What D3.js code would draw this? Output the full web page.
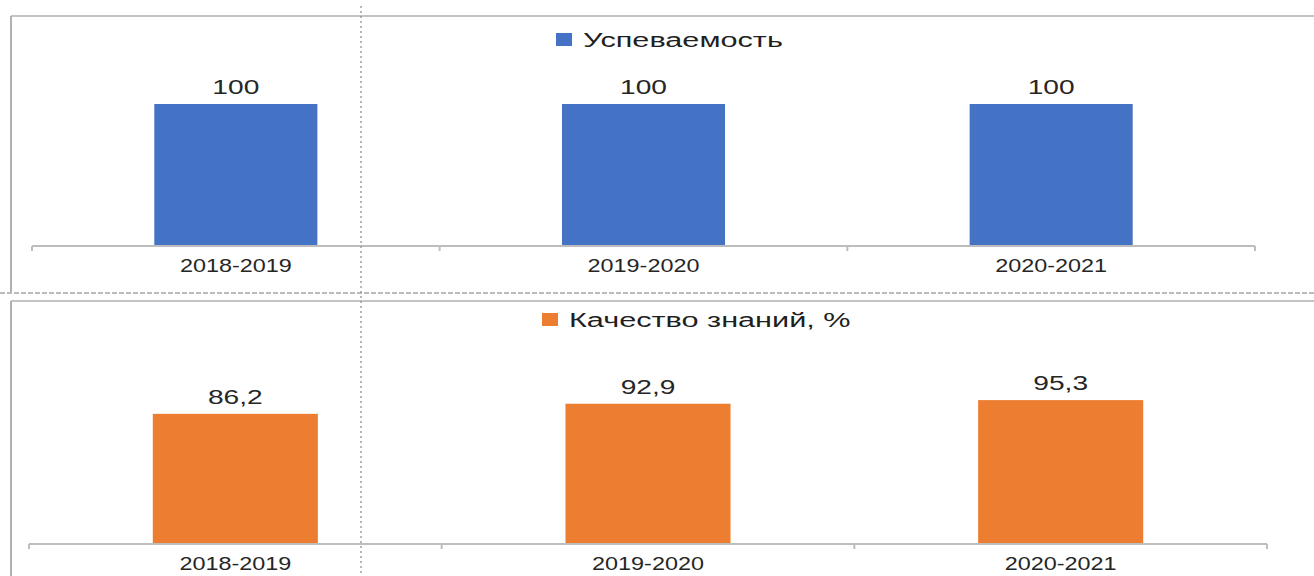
<!DOCTYPE html>
<html>
<head>
<meta charset="utf-8">
<script src="https://cdn.jsdelivr.net/npm/d3@7"></script>
<style>
  body { margin: 0; background: #fff; }
  svg { display: block; }
</style>
</head>
<body>
<script>
const years = ["2018-2019", "2019-2020", "2020-2021"];
const progress = [100, 100, 100];
const quality = [86.2, 92.9, 95.3];
const progressName = "Успеваемость";
const qualityName = "Качество знаний, %";

const w = 1314;
const h = 576;
const font = "'Liberation Sans', Arial, sans-serif";
const stretch = 1.34;

const svg = d3
  .select("body")
  .append("svg")
  .attr("width", w)
  .attr("height", h);

// stretched text, like the source picture
const addText = (g, x, y, str, size, sx = stretch) =>
  g
    .append("text")
    .attr("transform", `translate(${x},${y}) scale(${sx},1)`)
    .attr("text-anchor", "middle")
    .style("font-family", font)
    .style("font-size", size + "px")
    .style("fill", "#262626")
    .text(str);

const drawPanel = (opts) => {
  const { values, name, color, x0, x1, base, pxPer100, top, bottom, legendX, legendY } = opts;
  const g = svg.append("g");

  // panel frame
  g.append("line")
    .attr("x1", 11).attr("x2", w)
    .attr("y1", top).attr("y2", top)
    .attr("stroke", "#c4c4c4").attr("stroke-width", 2);
  g.append("line")
    .attr("x1", 11).attr("x2", 11)
    .attr("y1", top).attr("y2", bottom)
    .attr("stroke", "#b0b0b0").attr("stroke-width", 2);

  const xScale = d3.scaleBand().domain(years).range([x0, x1]).paddingInner(0.6).paddingOuter(0.3);
  const band = d3.scaleBand().domain(years).range([x0, x1]);
  const yScale = d3.scaleLinear().domain([0, 100]).range([base, base - pxPer100]);

  g.selectAll("rect.bar")
    .data(values)
    .enter()
    .append("rect")
    .attr("class", "bar")
    .attr("x", (d, i) => xScale(years[i]))
    .attr("y", (d) => yScale(d))
    .attr("width", xScale.bandwidth())
    .attr("height", (d) => base - yScale(d))
    .style("fill", color);

  values.forEach((d, i) => {
    addText(g, xScale(years[i]) + xScale.bandwidth() / 2, yScale(d) - 10,
      String(d).replace(".", ","), 21);
  });

  // axis
  const axis = g.append("g").attr("transform", `translate(0,${base})`);
  axis.append("line")
    .attr("x1", x0).attr("x2", x1)
    .attr("stroke", "#bdbdbd").attr("stroke-width", 2);
  const edges = years.map((y) => band(y)).concat([x1]);
  axis.selectAll("line.tick")
    .data(edges)
    .enter()
    .append("line")
    .attr("class", "tick")
    .attr("x1", (d) => d).attr("x2", (d) => d)
    .attr("y1", 0).attr("y2", 5)
    .attr("stroke", "#bdbdbd").attr("stroke-width", 2);
  years.forEach((y) => {
    addText(axis, band(y) + band.bandwidth() / 2, 26, y, 18, 1.3);
  });

  // legend
  g.append("rect")
    .attr("x", legendX).attr("y", legendY - 7)
    .attr("width", 16).attr("height", 13)
    .style("fill", color);
  g.append("text")
    .attr("transform", `translate(${legendX + 27},${legendY + 7}) scale(1.46,1)`)
    .style("font-family", font)
    .style("font-size", "21px")
    .style("fill", "#1f1f1f")
    .text(name);
};

drawPanel({
  values: progress, name: progressName, color: "#4472C4",
  x0: 32, x1: 1255, base: 246, pxPer100: 142, top: 16, bottom: 293,
  legendX: 556, legendY: 40
});

drawPanel({
  values: quality, name: qualityName, color: "#ED7D31",
  x0: 29, x1: 1267, base: 544, pxPer100: 151, top: 301, bottom: 576,
  legendX: 542, legendY: 320
});

// dashed separator and vertical dotted guide
svg.append("line")
  .attr("x1", 0).attr("x2", w)
  .attr("y1", 293).attr("y2", 293)
  .attr("stroke", "#bbb").attr("stroke-width", 2)
  .attr("stroke-dasharray", "5,2");
svg.append("line")
  .attr("x1", 361).attr("x2", 361)
  .attr("y1", 6).attr("y2", h)
  .attr("stroke", "#888").attr("stroke-width", 1.2)
  .attr("stroke-dasharray", "2,3");
</script>
</body>
</html>
